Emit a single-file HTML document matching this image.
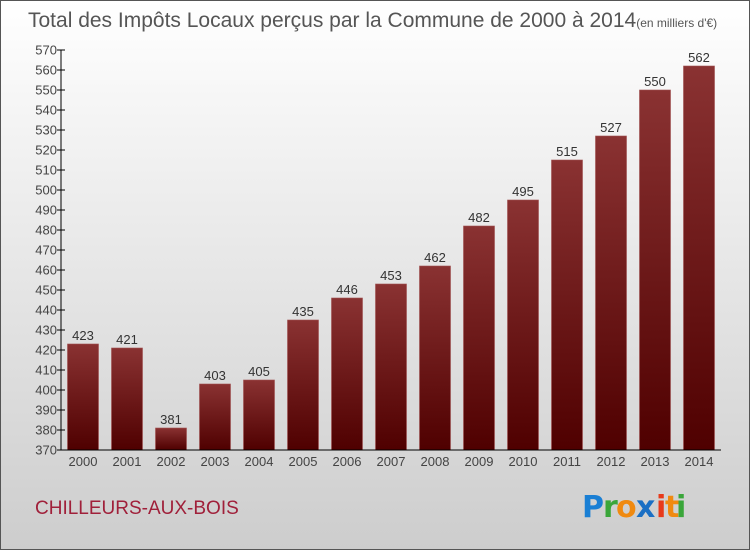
<!DOCTYPE html>
<html><head><meta charset="utf-8"><style>
html,body{margin:0;padding:0}
body{width:750px;height:550px;overflow:hidden;font-family:"Liberation Sans",sans-serif}
</style></head><body>
<svg width="750" height="550" xmlns="http://www.w3.org/2000/svg">
<defs>
<linearGradient id="bg" x1="0" y1="0" x2="0" y2="1"><stop offset="0" stop-color="#ffffff"/><stop offset="1" stop-color="#cdcdcd"/></linearGradient>
<linearGradient id="bar" x1="0" y1="0" x2="0" y2="1"><stop offset="0" stop-color="#8a3232"/><stop offset="1" stop-color="#4f0000"/></linearGradient>
</defs>
<rect x="0.5" y="0.5" width="749" height="549" fill="url(#bg)" stroke="#555"/>
<text x="28" y="27" font-size="21" fill="#555">Total des Impôts Locaux perçus par la Commune de 2000 à 2014<tspan font-size="12">(en milliers d'€)</tspan></text>
<g id="grid"></g>
<g id="bars"></g>
<g id="axes"></g>
<text x="35" y="514" font-size="19" fill="#a0203a">CHILLEURS-AUX-BOIS</text>
<g font-size="30" font-weight="bold" font-family="'DejaVu Sans',sans-serif">
<text x="582" y="517" fill="#1a7fd4">P</text><text x="603" y="517" fill="#3aa63a">r</text><text x="616" y="517" fill="#f08a10">o</text><text x="636" y="517" fill="#1a6fc4">x</text><text x="656" y="517" fill="#e83a1a">i</text><text x="665" y="517" fill="#f08a10">t</text><text x="676" y="517" fill="#3aa63a">i</text>
</g>
</svg>
<script>
const categories=["2000","2001","2002","2003","2004","2005","2006","2007","2008","2009","2010","2011","2012","2013","2014"];
const values=[423,421,381,403,405,435,446,453,462,482,495,515,527,550,562];
const yTicks=[370,380,390,400,410,420,430,440,450,460,470,480,490,500,510,520,530,540,550,560,570];
const NS="http://www.w3.org/2000/svg";
const x0=61,x1=721,yTop=50,yBot=450,yMin=370,yMax=570;
const band=(x1-x0)/categories.length;
const y=v=>yBot-(v-yMin)/(yMax-yMin)*(yBot-yTop);
const xc=i=>x0+band*(i+0.5);
function mk(tag,attrs,parent,text){const e=document.createElementNS(NS,tag);for(const k in attrs)e.setAttribute(k,attrs[k]);if(text!==undefined)e.textContent=text;document.getElementById(parent).appendChild(e);return e;}
yTicks.forEach(t=>{
 const l=mk('line',{x1:x0-4,x2:x0+4,y1:y(t),y2:y(t),stroke:'#000'},'axes');
 
 
 const tx=mk('text',{x:x0-4,y:y(t)+4.5,'text-anchor':'end','font-size':'13',fill:'#444'},'axes',t);
 
 
});
const ya=mk('line',{x1:x0,x2:x0,y1:yTop,y2:yBot,stroke:'#000'},'axes');


const xa=mk('line',{x1:x0,x2:x1,y1:yBot,y2:yBot,stroke:'#000'},'axes');


categories.forEach((c,i)=>{
 const bw=31,v=values[i];
 const r=mk('rect',{x:xc(i)-bw/2,y:y(v),width:bw,height:yBot-y(v),fill:'url(#bar)',stroke:'#a05050','stroke-width':'0.6'},'bars');
 
 
 const vl=mk('text',{x:xc(i),y:y(v)-4,'text-anchor':'middle','font-size':'13',fill:'#333'},'bars',v);
 
 
 const xl=mk('text',{x:xc(i),y:466,'text-anchor':'middle','font-size':'13',fill:'#444'},'axes',c);
 
 
});
</script>
</body></html>
